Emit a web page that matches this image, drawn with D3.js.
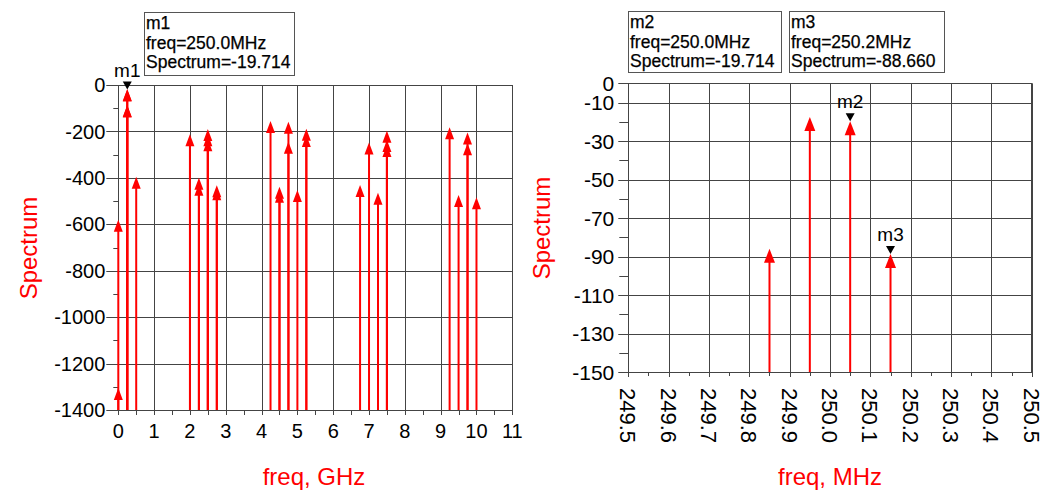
<!DOCTYPE html>
<html>
<head>
<meta charset="utf-8">
<script src="https://cdn.jsdelivr.net/npm/d3@7"></script>
<style>
	body { margin: 0; background: #fff; }
	svg { display: block; font-family: "Liberation Sans", Arial, sans-serif; }
</style>
</head>
<body>
<svg width="1048" height="490"></svg>
<script>
(function(){
	'use strict';

	// left plot: harmonic spectrum, freq in GHz
	const leftFreqs = [0, 0, 0.25, 0.25, 0.25, 0.25, 0.5, 2.0, 2.25, 2.25, 2.5, 2.5, 2.5, 2.75, 2.75,
		4.25, 4.5, 4.5, 4.75, 4.75, 5.0, 5.25, 5.25, 6.75, 7.0, 7.25, 7.5, 7.5, 7.5,
		9.25, 9.5, 9.75, 9.75, 10.0];
	const leftValues = [-580, -1305, -17.5, -19.714, -86, -88.66, -395, -212, -400, -425, -190, -212, -234, -432, -445,
		-155, -438, -456, -158, -244, -452, -188, -215, -431, -248, -464, -197, -237, -258,
		-182, -474, -205, -251, -484];
	const leftXTicks = [0, 1, 2, 3, 4, 5, 6, 7, 8, 9, 10, 11];
	const leftYTicks = [0, -200, -400, -600, -800, -1000, -1200, -1400];

	// right plot: zoom around 250 MHz
	const rightFreqs = [249.85, 249.95, 250.05, 250.15];
	const rightValues = [-86, -17.5, -19.714, -88.66];
	const rightXTicks = [249.5, 249.6, 249.7, 249.8, 249.9, 250.0, 250.1, 250.2, 250.3, 250.4, 250.5];
	const rightYTicks = [0, -10, -30, -50, -70, -90, -110, -130, -150];

	// markers
	const leftMarkers = [{ name: 'm1', f: 0.25, v: -19.714 }];
	const rightMarkers = [{ name: 'm2', f: 250.05, v: -19.714 }, { name: 'm3', f: 250.15, v: -88.66 }];
	const m1Text = ['m1', 'freq=250.0MHz', 'Spectrum=-19.714'];
	const m2Text = ['m2', 'freq=250.0MHz', 'Spectrum=-19.714'];
	const m3Text = ['m3', 'freq=250.2MHz', 'Spectrum=-88.660'];

	const svg = d3.select('svg');
	const red = '#ff0000';
	const gridColor = '#444';

	function drawPlot(opts) {
		const x = d3.scaleLinear().domain(opts.xDomain).range(opts.xRange);
		const y = d3.scaleLinear().domain(opts.yDomain).range(opts.yRange);
		const g = svg.append('g');
		const [x0, x1] = opts.xRange;
		const [y0, y1] = opts.yRange; // y0 bottom, y1 top

		// grid
		g.append('g').selectAll('line').data(opts.xTicks).join('line')
			.attr('x1', d => Math.round(x(d)) + 0.5).attr('x2', d => Math.round(x(d)) + 0.5)
			.attr('y1', y1).attr('y2', y0 + opts.xMajorLen)
			.attr('stroke', gridColor).attr('stroke-width', 1);
		g.append('g').selectAll('line').data(opts.yTicks).join('line')
			.attr('y1', d => Math.round(y(d)) + 0.5).attr('y2', d => Math.round(y(d)) + 0.5)
			.attr('x1', x0 - opts.yMajorLen).attr('x2', x1)
			.attr('stroke', gridColor).attr('stroke-width', 1);
		// frame
		g.append('rect')
			.attr('x', Math.round(x0) + 0.5).attr('y', Math.round(y1) + 0.5)
			.attr('width', Math.round(x1 - x0)).attr('height', Math.round(y0 - y1))
			.attr('fill', 'none').attr('stroke', gridColor);

		// minor ticks
		g.append('g').selectAll('line').data(opts.xMinor).join('line')
			.attr('x1', d => Math.round(x(d)) + 0.5).attr('x2', d => Math.round(x(d)) + 0.5)
			.attr('y1', y0).attr('y2', y0 + opts.xMinorLen)
			.attr('stroke', gridColor);
		g.append('g').selectAll('line').data(opts.yMinor).join('line')
			.attr('y1', d => Math.round(y(d)) + 0.5).attr('y2', d => Math.round(y(d)) + 0.5)
			.attr('x1', x0 - opts.yMinorLen).attr('x2', x0)
			.attr('stroke', gridColor);

		// tick labels
		g.append('g').selectAll('text').data(opts.yTicks).join('text')
			.attr('x', x0 - opts.yLabelGap).attr('y', d => y(d))
			.attr('dy', '0.36em')
			.attr('text-anchor', 'end')
			.attr('font-size', opts.tickFont)
			.text(d => d);
		if (opts.rotateX) {
			g.append('g').selectAll('text').data(opts.xTicks).join('text')
				.attr('transform', d => `translate(${x(d)}, ${y0 + opts.xLabelGap}) rotate(90)`)
				.attr('dy', '0.36em')
				.attr('font-size', opts.xTickFont)
				.text(d => d.toFixed(1));
		} else {
			g.append('g').selectAll('text').data(opts.xTicks).join('text')
				.attr('x', d => x(d)).attr('y', y0 + opts.xLabelGap)
				.attr('text-anchor', 'middle')
				.attr('font-size', opts.xTickFont)
				.text(d => d);
		}

		// axis titles
		g.append('text')
			.attr('transform', `translate(${opts.yTitlePos[0]}, ${opts.yTitlePos[1]}) rotate(-90)`)
			.attr('text-anchor', 'middle').attr('dy', '0.36em')
			.attr('font-size', 24).attr('fill', red)
			.text('Spectrum');
		g.append('text')
			.attr('x', opts.xTitlePos[0]).attr('y', opts.xTitlePos[1])
			.attr('text-anchor', 'middle').attr('dy', '0.36em')
			.attr('font-size', 24).attr('fill', red)
			.text(opts.xTitle);

		// stems and arrowheads
		const pts = opts.freqs.map((f, i) => ({ f, v: opts.values[i] }));
		g.append('g').selectAll('line').data(pts).join('line')
			.attr('x1', d => x(d.f)).attr('x2', d => x(d.f))
			.attr('y1', d => y(d.v) + 4).attr('y2', y0)
			.attr('stroke', red).attr('stroke-width', 2);
		const aw = opts.arrowW / 2, ah = opts.arrowH;
		g.append('g').selectAll('path').data(pts).join('path')
			.attr('transform', d => `translate(${x(d.f)}, ${y(d.v)})`)
			.attr('d', `M0,0L${aw},${ah}L${-aw},${ah}Z`)
			.attr('fill', red);

		// markers
		const mk = g.append('g').selectAll('g').data(opts.markers).join('g')
			.attr('transform', d => `translate(${x(d.f)}, ${y(d.v)})`);
		mk.append('path')
			.attr('d', 'M0,0L4.5,-8L-4.5,-8Z')
			.attr('fill', '#000');
		mk.append('text')
			.attr('y', -13)
			.attr('text-anchor', 'middle')
			.attr('font-size', 19)
			.text(d => d.name);
	}

	function drawBox(x0, y0, w, h, lines) {
		const g = svg.append('g');
		g.append('rect')
			.attr('x', x0 + 0.5).attr('y', y0 + 0.5)
			.attr('width', w).attr('height', h)
			.attr('fill', '#fff').attr('stroke', '#555');
		g.selectAll('text').data(lines).join('text')
			.attr('x', x0 + 2).attr('y', (d, i) => y0 + 17 + i * 19.5)
			.attr('font-size', 17.5)
			.attr('stroke', '#000').attr('stroke-width', 0.25)
			.text(d => d);
	}

	drawPlot({
		xDomain: [0, 11], xRange: [118.3, 512.3],
		yDomain: [-1400, 0], yRange: [410, 85],
		xTicks: leftXTicks, yTicks: leftYTicks,
		xMinor: d3.range(0.5, 11, 1), yMinor: d3.range(-100, -1400, -200),
		xMajorLen: 5, xMinorLen: 5, yMajorLen: 12, yMinorLen: 5,
		yLabelGap: 13, xLabelGap: 28, tickFont: 20, xTickFont: 20,
		yTitlePos: [28, 248], xTitlePos: [314, 476], xTitle: 'freq, GHz',
		freqs: leftFreqs, values: leftValues,
		arrowW: 9, arrowH: 12,
		markers: leftMarkers
	});

	drawPlot({
		xDomain: [249.5, 250.5], xRange: [628.3, 1031.7],
		yDomain: [-150, 0], yRange: [372, 83.3],
		xTicks: rightXTicks, yTicks: rightYTicks,
		xMinor: d3.range(249.55, 250.5, 0.1), yMinor: d3.range(-20, -150, -20),
		xMajorLen: 5, xMinorLen: 4, yMajorLen: 10, yMinorLen: 9,
		yLabelGap: 14, xLabelGap: 16, tickFont: 21, xTickFont: 22, rotateX: true,
		yTitlePos: [541, 228], xTitlePos: [830, 476], xTitle: 'freq, MHz',
		freqs: rightFreqs, values: rightValues,
		arrowW: 11, arrowH: 14,
		markers: rightMarkers
	});

	drawBox(144, 12, 150, 63, m1Text);
	drawBox(628, 11, 153, 61, m2Text);
	drawBox(789, 11, 155, 61, m3Text);
})();
</script>
</body>
</html>
